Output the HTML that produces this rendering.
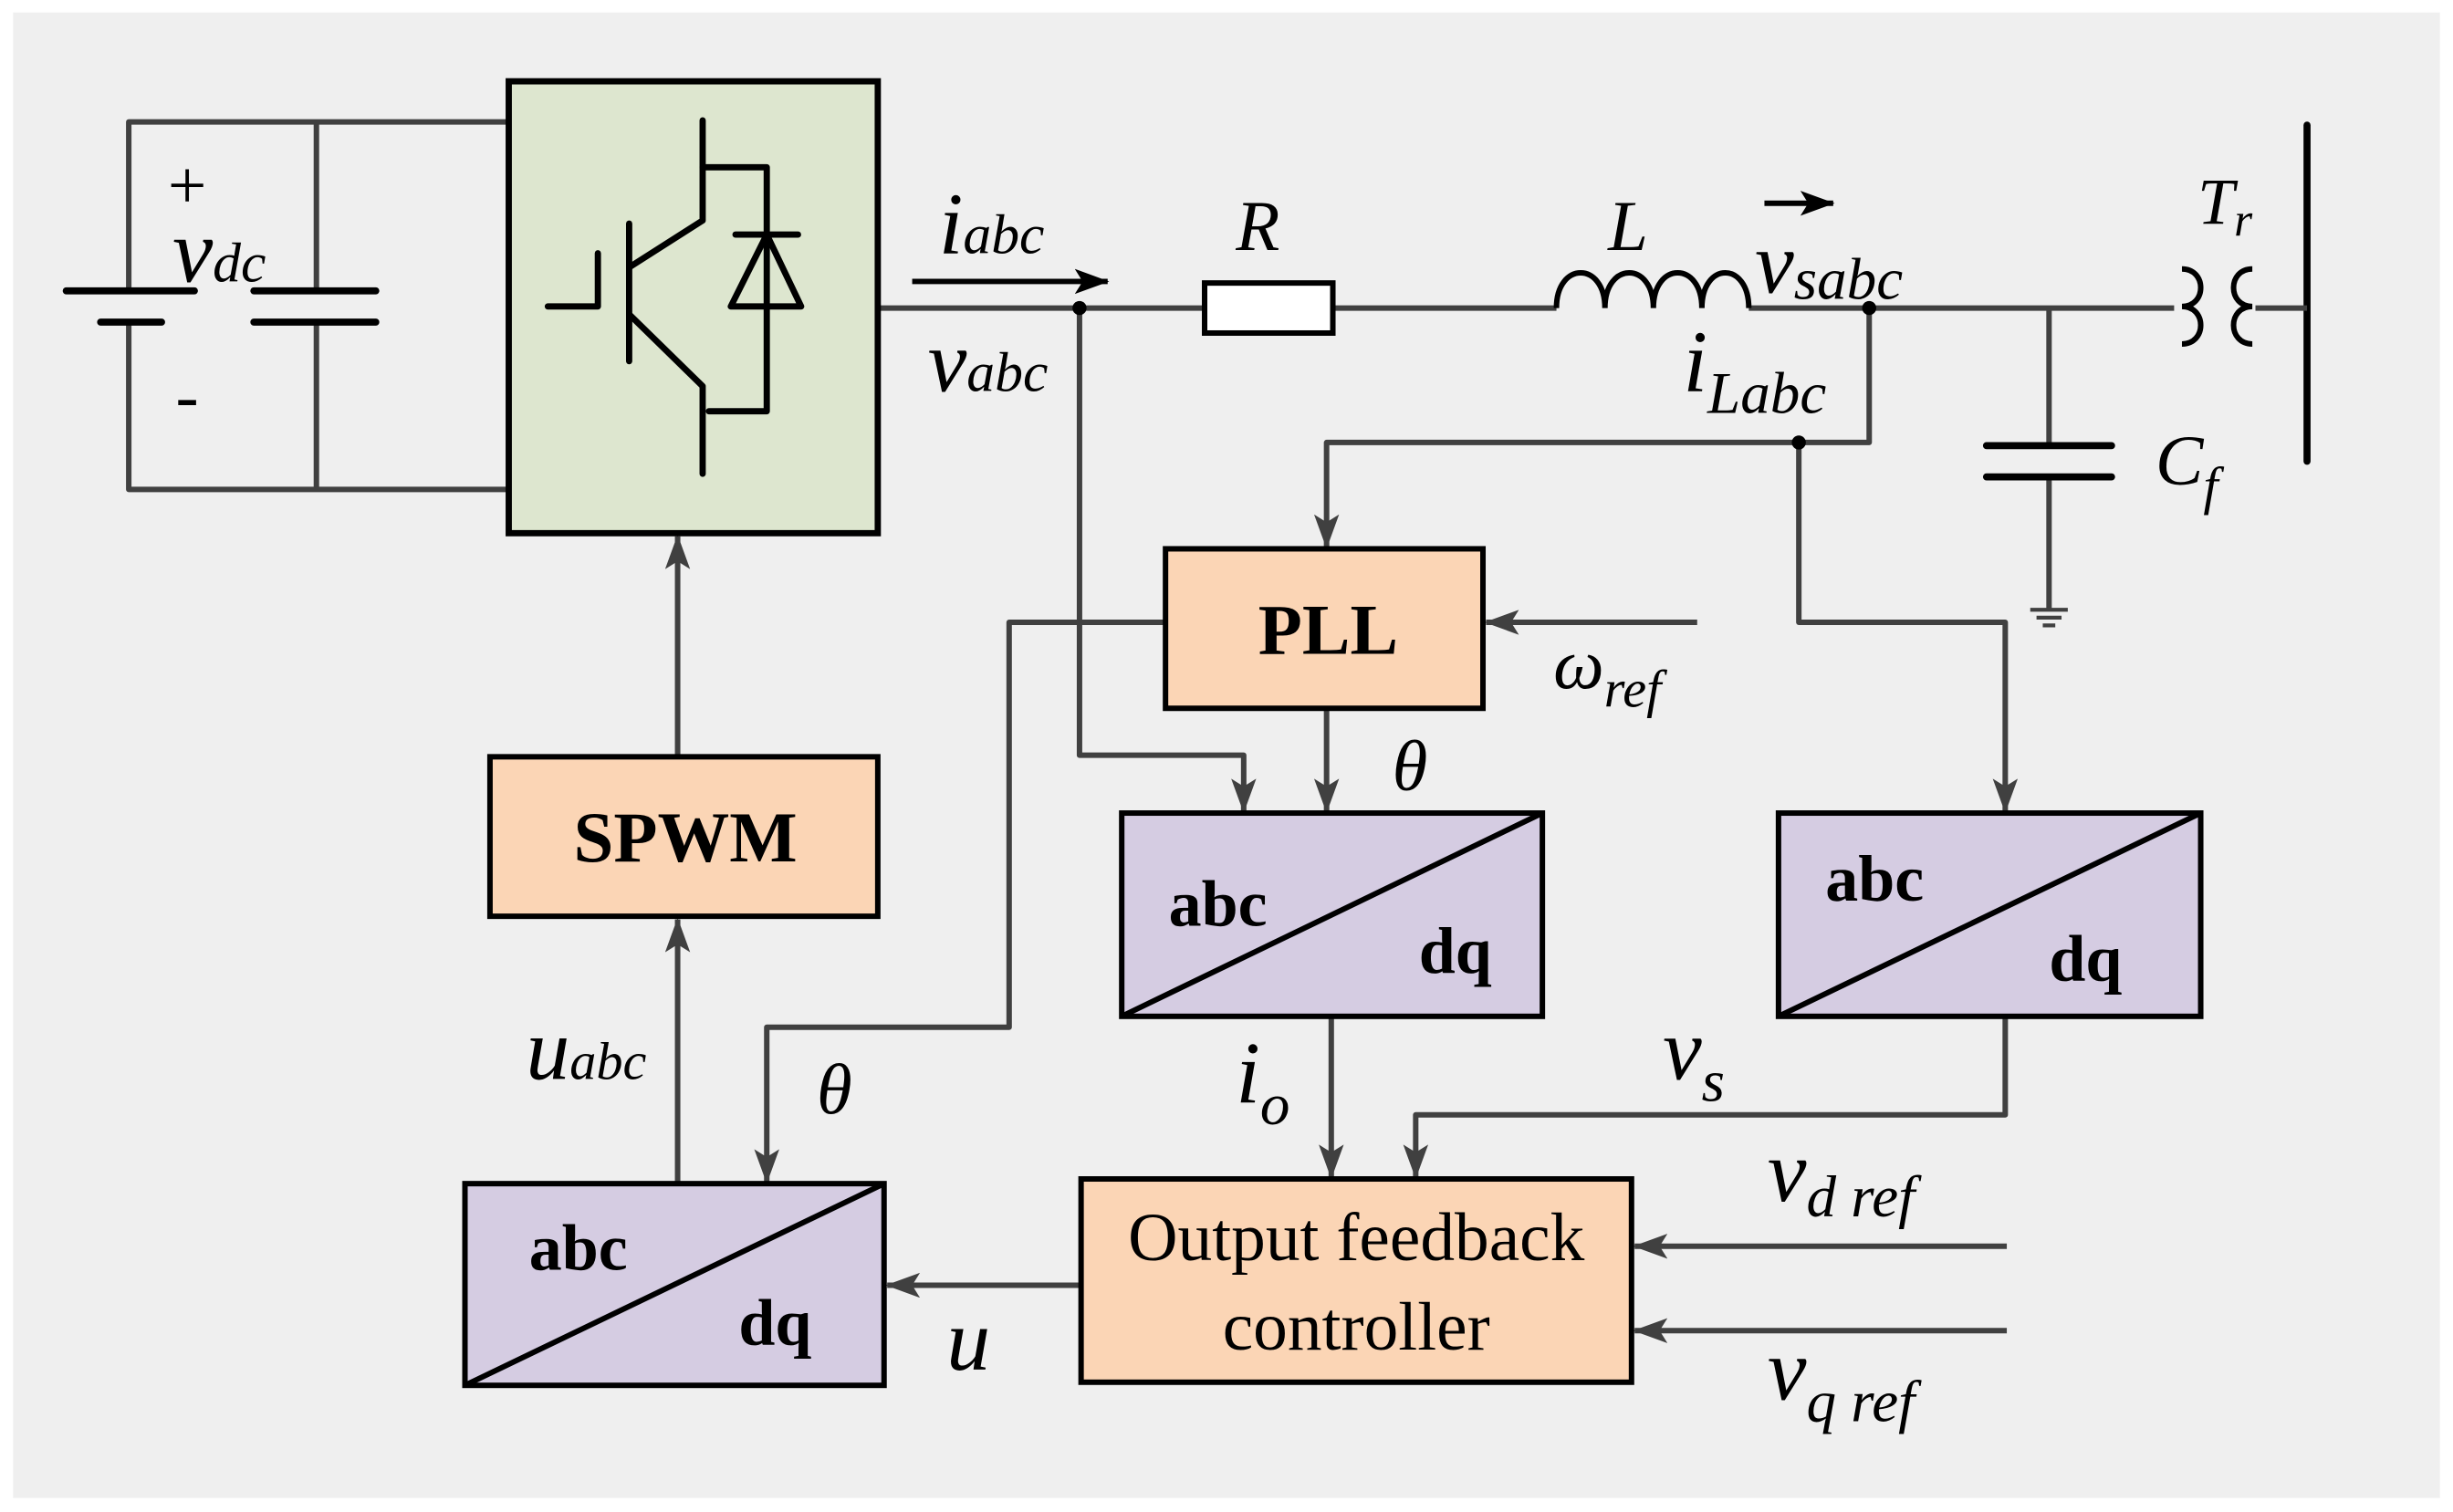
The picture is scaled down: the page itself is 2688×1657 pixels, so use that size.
<!DOCTYPE html>
<html><head><meta charset="utf-8"><style>html,body{margin:0;padding:0;background:#fff}svg{display:block}</style></head><body>
<svg width="2688" height="1657" viewBox="0 0 1568 967" xmlns="http://www.w3.org/2000/svg">
<defs>
<marker id="ab" markerWidth="22" markerHeight="16" refX="21" refY="8" orient="auto" markerUnits="userSpaceOnUse" viewBox="0 0 22 16"><path d="M0,0 L22,8 L0,16 L5,8 Z" fill="#404040"/></marker>
<marker id="ak" markerWidth="22" markerHeight="16" refX="21" refY="8" orient="auto" markerUnits="userSpaceOnUse" viewBox="0 0 22 16"><path d="M0,0 L22,8 L0,16 L5,8 Z" fill="#000"/></marker></defs>
<rect x="8" y="8" width="1552" height="950" fill="#efefef"/>
<g stroke="#404040" stroke-width="3.5" fill="none" stroke-linejoin="round">
<path d="M82,186 V78 H325 M82,206 V313 H325 M202,78 V186 M202,206 V313"/>
<path d="M561,197 H770 M852,197 H995 M1118,197 H1390"/>
<path d="M1310,197 V285 M1310,305 V390"/>
<path d="M1195,197 V283 H848 V350" marker-end="url(#ab)"/>
<path d="M1150,283 V398 H1282 V519" marker-end="url(#ab)"/>
<path d="M690,197 V483 H795 V519" marker-end="url(#ab)"/>
<path d="M848,453 V519" marker-end="url(#ab)"/>
<path d="M1085,398 H950" marker-end="url(#ab)"/>
<path d="M745,398 H645 V657 H490 V756" marker-end="url(#ab)"/>
<path d="M433,484 V343" marker-end="url(#ab)"/>
<path d="M433,757 V588" marker-end="url(#ab)"/>
<path d="M851,650 V753" marker-end="url(#ab)"/>
<path d="M1282,650 V713 H905 V753" marker-end="url(#ab)"/>
<path d="M1283,797 H1045" marker-end="url(#ab)"/>
<path d="M1283,851 H1045" marker-end="url(#ab)"/>
<path d="M691,822 H567" marker-end="url(#ab)"/>
</g>
<g stroke="#404040" stroke-width="2.5"><path d="M1298,390 H1322 M1302,395 H1318 M1306,400 H1314"/></g>
<g fill="#000"><circle cx="690" cy="197" r="4.5"/><circle cx="1195" cy="197" r="4.5"/><circle cx="1150" cy="283" r="4.5"/></g>
<g stroke="#000" stroke-width="4.5" stroke-linecap="round">
<path d="M42,186 H124 M64,206 H103 M162,186 H240 M162,206 H240"/>
<path d="M1270,285 H1350 M1270,305 H1350"/>
<path d="M1475,80 V295"/>
</g>
<rect x="325" y="52" width="236" height="289" fill="#dde6cf" stroke="#000" stroke-width="4"/>
<g stroke="#000" stroke-width="4" fill="none" stroke-linecap="round" stroke-linejoin="round">
<path d="M449,77 V141 L402,171"/><path d="M402,143 V231"/><path d="M350,196 H382 V162"/>
<path d="M402,201 L449,247 V303"/><path d="M449,107 H490 V263 H453"/>
<path d="M470,150 H510"/><path d="M490,150 L467,196 H512 Z"/>
</g>
<rect x="770" y="181" width="82" height="32" fill="#fff" stroke="#000" stroke-width="3.5"/>
<path d="M995,197 c0,-30 31,-30 31,0 c0,-30 31,-30 31,0 c0,-30 31,-30 31,0 c0,-30 30,-30 30,0" fill="none" stroke="#000" stroke-width="3.5"/>
<g fill="none" stroke="#000" stroke-width="3.5"><path d="M1395,172 c16,0 16,24 0,24 c16,0 16,24 0,24"/><path d="M1440,172 c-16,0 -16,24 0,24 c-16,0 -16,24 0,24"/></g>
<path d="M1442,197 H1475" stroke="#404040" stroke-width="3.5"/>
<g stroke="#000" stroke-width="3.5">
<rect x="745" y="351" width="203" height="102" fill="#fbd5b5"/>
<rect x="313" y="484" width="248" height="102" fill="#fbd5b5"/>
<rect x="691" y="754" width="352" height="130" fill="#fbd5b5"/>
<rect x="717" y="520" width="269" height="130" fill="#d5cce2"/><path d="M717,650 L986,520"/>
<rect x="1137" y="520" width="270" height="130" fill="#d5cce2"/><path d="M1137,650 L1407,520"/>
<rect x="297" y="757" width="268" height="129" fill="#d5cce2"/><path d="M297,886 L565,757"/>
</g>
<g font-family="Liberation Serif, serif" font-weight="bold" font-size="42" fill="#000">
<text x="849" y="418" text-anchor="middle" font-size="46">PLL</text>
<text x="438" y="551" text-anchor="middle" font-size="46">SPWM</text>
<text x="747" y="592">abc</text><text x="907" y="622">dq</text>
<text x="1167" y="576">abc</text><text x="1310" y="627">dq</text>
<text x="338" y="812">abc</text><text x="472" y="860">dq</text>
</g>
<g font-family="Liberation Serif, serif" font-size="44" fill="#000" text-anchor="middle">
<text x="867" y="806">Output feedback</text><text x="867" y="863">controller</text>
</g>
<g font-family="Liberation Serif, serif" font-style="italic" fill="#000">
<text x="107" y="133" font-size="44" font-style="normal">+</text>
<text x="112" y="268" font-size="44" font-style="normal">-</text>
<text x="110" y="180" font-size="58">v<tspan font-size="36">dc</tspan></text>
<text x="600" y="162" font-size="56">i<tspan font-size="36">abc</tspan></text>
<text x="593" y="250" font-size="56">v<tspan font-size="36">abc</tspan></text>
<text x="790" y="160" font-size="46">R</text>
<text x="1028" y="160" font-size="46">L</text>
<text x="1122" y="187" font-size="56">v<tspan font-size="38" dy="4">sabc</tspan></text>
<text x="1076" y="250" font-size="56">i<tspan font-size="38" dy="14">Labc</tspan></text>
<text x="1405" y="143" font-size="42">T<tspan font-size="30" dy="8">r</tspan></text>
<text x="1378" y="310" font-size="46">C<tspan font-size="34" dy="12">f</tspan></text>
<text x="993" y="440" font-size="46">ω<tspan font-size="34" dy="12">ref</tspan></text>
<text x="890" y="505" font-size="46">θ</text>
<text x="522" y="712" font-size="46">θ</text>
<text x="336" y="690" font-size="56">u<tspan font-size="34">abc</tspan></text>
<text x="790" y="705" font-size="56">i<tspan font-size="38" dy="14">o</tspan></text>
<text x="1063" y="690" font-size="56">v<tspan font-size="38" dy="14">s</tspan></text>
<text x="1130" y="768" font-size="56">v<tspan font-size="38" dy="10">d ref</tspan></text>
<text x="1130" y="895" font-size="56">v<tspan font-size="38" dy="14">q ref</tspan></text>
<text x="605" y="876" font-size="56">u</text>
</g>
<g stroke="#000" stroke-width="3.5" fill="none">
<path d="M583,180 H708" marker-end="url(#ak)"/>
<path d="M1128,130 H1172" marker-end="url(#ak)"/>
</g>
</svg>
</body></html>
